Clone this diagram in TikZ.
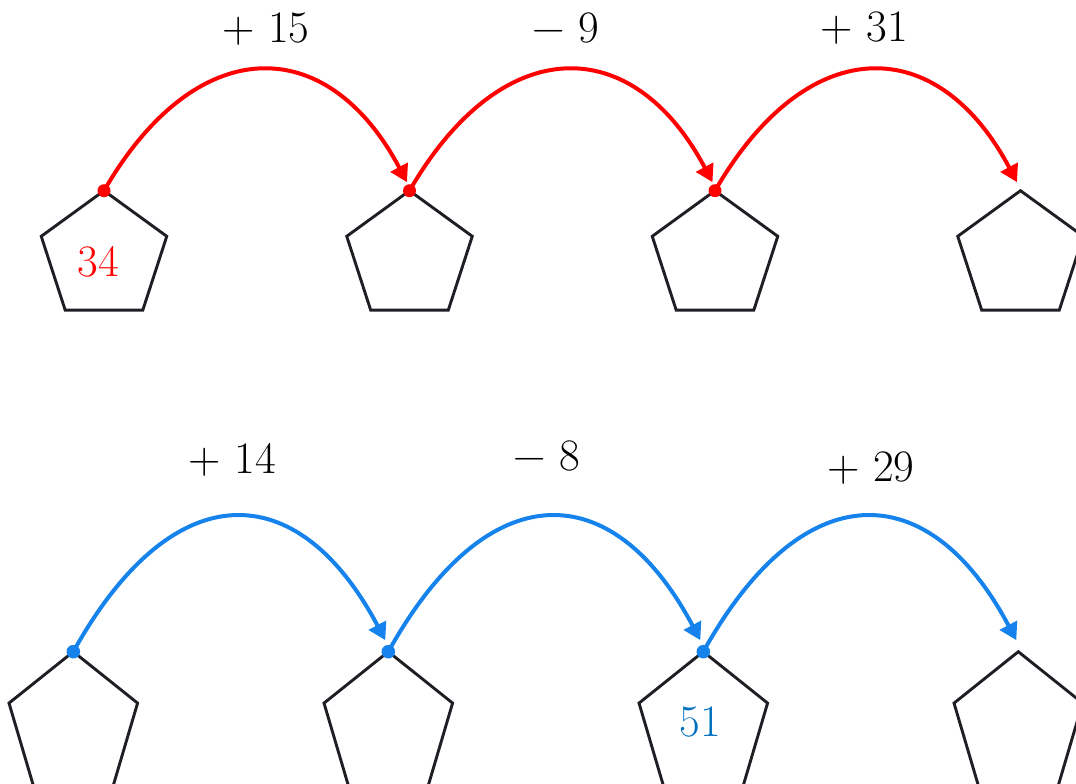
\documentclass[tikz,border=0pt]{standalone}
\usetikzlibrary{arrows.meta,calc}
\definecolor{arcred}{RGB}{255,0,0}
\definecolor{arcblue}{RGB}{21,131,235}
\definecolor{numblue}{RGB}{0,112,192}
\definecolor{pentline}{RGB}{30,30,36}
\newcommand\mypent[5]{% name, cx, topy, R, yscale
  \coordinate (#1) at (#2,#3);
  \draw[pentstyle] (#1)
    -- ({#2+0.951*#4},{#3+0.691*#4*#5})
    -- ({#2+0.588*#4},{#3+1.809*#4*#5})
    -- ({#2-0.588*#4},{#3+1.809*#4*#5})
    -- ({#2-0.951*#4},{#3+0.691*#4*#5}) -- cycle;}
\newcommand\mymin{\char"2212}
\tikzset{
  pentstyle/.style={draw=pentline,line width=2.9pt,line join=miter},
  jumpred/.style={draw=arcred,line width=4pt,-{Triangle[length=17pt,width=19pt]}},
  jumpblue/.style={draw=arcblue,line width=4pt,-{Triangle[length=17pt,width=19pt]}},
  oplabel/.style={anchor=base,inner sep=0pt,font=\fontsize{45}{54}\selectfont},
}
\begin{document}
\begin{tikzpicture}[x=1pt,y=-1pt]
\useasboundingbox (0,0) rectangle (1076,784);
\clip (0,0) rectangle (1076,784);
% top row
\mypent{a1}{104}{190.7}{66}{1}
\mypent{a2}{409.5}{190.7}{66}{1}
\mypent{a3}{715}{190.7}{66}{1}
\mypent{a4}{1020.5}{190.7}{66}{1}
\coordinate (ea2) at ($(a2)+(-2.5,-8.5)$);
\coordinate (ea3) at ($(a3)+(-2.5,-8.5)$);
\coordinate (ea4) at ($(a4)+(-3.5,-8.5)$);
\draw[jumpred] (a1) .. controls +(92,-159) and +(-80,-151) .. (ea2);
\draw[jumpred] (a2) .. controls +(92,-159) and +(-80,-151) .. (ea3);
\draw[jumpred] (a3) .. controls +(92,-159) and +(-80,-151) .. (ea4);
\foreach \p in {a1,a2,a3} \fill[arcred] (\p) circle (6.5);
\node[oplabel] (l1) at (266,42.7) {+ 15};
\node[oplabel] (l2) at (566,42.3) {\mymin\ 9};
\node[oplabel] (l3) at (864,42) {+ 31};
\node[oplabel,text=arcred] (n34) at (98,276.7) {34};
% bottom row
\mypent{b1}{73.3}{651.7}{67.6}{1.1}
\mypent{b2}{388.3}{651.7}{67.6}{1.1}
\mypent{b3}{703.3}{651.7}{67.6}{1.1}
\mypent{b4}{1018.3}{651.7}{67.6}{1.1}
\coordinate (eb2) at ($(b2)+(-3,-11.5)$);
\coordinate (eb3) at ($(b3)+(-3,-11.5)$);
\coordinate (eb4) at ($(b4)+(-2,-11.5)$);
\draw[jumpblue] (b1) .. controls +(99,-178) and +(-88,-166) .. (eb2);
\draw[jumpblue] (b2) .. controls +(99,-178) and +(-88,-166) .. (eb3);
\draw[jumpblue] (b3) .. controls +(99,-178) and +(-88,-166) .. (eb4);
\foreach \p in {b1,b2,b3} \fill[arcblue] (\p) circle (6.8);
\node[oplabel] (m1) at (232.5,473.3) {+ 14};
\node[oplabel] (m2) at (546.7,470) {\mymin\ 8};
\node[oplabel] (m3) at (870.7,481.7) {+ 29};
\node[oplabel,text=numblue] (n51) at (700,736.7) {51};
\end{tikzpicture}
\end{document}
